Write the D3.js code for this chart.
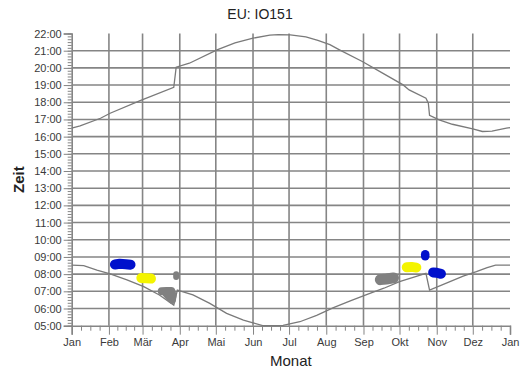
<!DOCTYPE html>
<html>
<head>
<meta charset="utf-8">
<script src="https://cdn.jsdelivr.net/npm/d3@7"></script>
<style>
  body { margin: 0; background: #fff; }
  svg { font-family: "Liberation Sans", Arial, sans-serif; }
</style>
</head>
<body>
<script>
// month labels and the day of year each month starts on
var months = ["Jan", "Feb", "Mär", "Apr", "Mai", "Jun", "Jul", "Aug", "Sep", "Okt", "Nov", "Dez", "Jan"];
var monthStart = [0, 31, 59, 90, 120, 151, 181, 212, 243, 273, 304, 334, 365];
var hourTicks = [5, 6, 7, 8, 9, 10, 11, 12, 13, 14, 15, 16, 17, 18, 19, 20, 21, 22];

// sunset line [day, hour]
var sunset = [
  [0, 16.49], [7, 16.62], [24, 17.07], [32, 17.36], [57, 18.10], [85, 18.87],
  [87, 20.04], [98, 20.27], [121, 21.05], [136, 21.45], [151, 21.73], [165, 21.9],
  [172, 21.93], [182, 21.92], [195, 21.8], [205, 21.6], [215, 21.35], [223, 21.05],
  [242, 20.37], [260, 19.65], [276, 19.01], [281, 18.72], [295, 18.24],
  [297, 17.95], [298, 17.24], [306, 16.97], [317, 16.72], [334, 16.45], [342, 16.30],
  [350, 16.32], [362, 16.49], [365, 16.52]
];

// sunrise line [day, hour]
var sunrise = [
  [0, 8.53], [10, 8.49], [21, 8.24], [32, 8.01], [46, 7.66], [60, 7.27], [73, 6.79],
  [85, 6.20], [88, 7.07], [101, 6.79], [115, 6.30], [129, 5.72], [143, 5.33],
  [151, 5.17], [159, 5.0], [176, 5.02], [190, 5.23], [204, 5.6], [218, 6.05],
  [232, 6.45], [245, 6.79], [260, 7.18], [273, 7.56], [285, 7.83], [295, 8.05],
  [298, 7.07], [315, 7.56], [326, 7.88], [337, 8.14], [346, 8.38], [353, 8.53], [365, 8.53]
];

// observation groups [day, hour]
var blueFeb = [[36, 8.56], [40, 8.6], [45, 8.58], [49, 8.55]];
var yellowMar = [[58, 7.78], [62, 7.76], [66, 7.74]];
var grayApr = [[87, 8.0], [87, 7.84]];
var grayMar = [[75, 7.0], [79, 7.02], [83, 7.02], [84, 6.75], [83.5, 6.5], [79, 6.85]];
var graySep = [[257, 7.68], [262, 7.72], [268, 7.78]];
var yellowOkt = [[279, 8.4], [283, 8.42], [287, 8.38]];
var blueOkt = [[294.4, 9.16], [294.4, 9.04]];
var blueNov = [[301, 8.1], [304, 8.08], [307.5, 8.02]];

var svgWidth = 520, svgHeight = 374;
var plotLeft = 71.7, plotRight = 510, plotTop = 33.5, plotBottom = 325.7;
var gridColor = "#858585";

var svg = d3.select("body").append("svg")
  .attr("width", svgWidth)
  .attr("height", svgHeight);

var x = d3.scaleLinear().domain([0, 365]).range([plotLeft, plotRight]);
var y = d3.scaleLinear().domain([5, 22]).range([plotBottom, plotTop]);

// grid
svg.append("g").selectAll("line")
  .data(hourTicks.filter(function (h) { return h > 5 && h < 22; }))
  .enter().append("line")
    .attr("x1", plotLeft).attr("x2", plotRight)
    .attr("y1", function (d) { return y(d); })
    .attr("y2", function (d) { return y(d); })
    .attr("stroke", gridColor).attr("stroke-width", 1.6);

svg.append("g").selectAll("line")
  .data(monthStart.slice(1, 12))
  .enter().append("line")
    .attr("x1", function (d) { return x(d); })
    .attr("x2", function (d) { return x(d); })
    .attr("y1", plotTop).attr("y2", plotBottom)
    .attr("stroke", gridColor).attr("stroke-width", 1.6);

// minor ticks
var minorY = d3.range(5, 22.0001, 1 / 6);
var minorX = [];
monthStart.slice(0, 12).forEach(function (m, i) {
  var len = monthStart[i + 1] - m;
  minorX.push(m + len / 4, m + len / 2, m + 3 * len / 4);
});

svg.append("g")
  .attr("transform", "translate(" + plotLeft + ",0)")
  .call(d3.axisLeft(y).tickValues(minorY).tickSize(4).tickFormat(""))
  .call(function (g) { g.select(".domain").remove(); })
  .selectAll("line").attr("stroke", gridColor);

svg.append("g")
  .attr("transform", "translate(0," + plotBottom + ")")
  .call(d3.axisBottom(x).tickValues(minorX).tickSize(5).tickFormat(""))
  .call(function (g) { g.select(".domain").remove(); })
  .selectAll("line").attr("stroke", gridColor);

// main axes
var yAxis = svg.append("g")
  .attr("transform", "translate(" + plotLeft + ",0)")
  .call(d3.axisLeft(y).tickValues(hourTicks).tickSize(8).tickPadding(2)
    .tickFormat(function (d) { return (d < 10 ? "0" : "") + d + ":00"; }));
yAxis.select(".domain").attr("stroke", gridColor).attr("stroke-width", 1.6);
yAxis.selectAll("line").attr("stroke", gridColor);
yAxis.selectAll("text").attr("fill", "#3a3a3a").style("font-size", "11px")
  .style("font-family", "Liberation Sans, Arial, sans-serif");

var xAxis = svg.append("g")
  .attr("transform", "translate(0," + plotBottom + ")")
  .call(d3.axisBottom(x).tickValues(monthStart).tickSize(9).tickPadding(4)
    .tickFormat(function (d, i) { return months[i]; }));
xAxis.select(".domain").attr("stroke", gridColor).attr("stroke-width", 1.6);
xAxis.selectAll("line").attr("stroke", gridColor);
xAxis.selectAll("text").attr("fill", "#3a3a3a").style("font-size", "11px")
  .style("font-family", "Liberation Sans, Arial, sans-serif");

// sun lines
var line = d3.line()
  .x(function (d) { return x(d[0]); })
  .y(function (d) { return y(d[1]); });

[sunset, sunrise].forEach(function (s) {
  svg.append("path")
    .datum(s)
    .attr("d", line)
    .attr("fill", "none")
    .attr("stroke", "#7a7a7a")
    .attr("stroke-width", 1.3);
});

// observations
var groups = [
  { pts: blueFeb, color: "#0010cc", w: 10 },
  { pts: yellowMar, color: "#f4f400", w: 10 },
  { pts: grayApr, color: "#808080", w: 6 },
  { pts: grayMar, color: "#808080", w: 8 },
  { pts: graySep, color: "#808080", w: 11 },
  { pts: yellowOkt, color: "#f4f400", w: 10 },
  { pts: blueOkt, color: "#0010cc", w: 8.5 },
  { pts: blueNov, color: "#0010cc", w: 10 }
];

groups.forEach(function (g) {
  svg.append("path")
    .datum(g.pts)
    .attr("d", line)
    .attr("fill", "none")
    .attr("stroke", g.color)
    .attr("stroke-width", g.w)
    .attr("stroke-linecap", "round")
    .attr("stroke-linejoin", "round");
});

// titles
svg.append("text")
  .attr("x", svgWidth / 2)
  .attr("y", 19)
  .attr("text-anchor", "middle")
  .style("font-size", "14px")
  .attr("fill", "#222")
  .text("EU: IO151");

svg.append("text")
  .attr("x", (plotLeft + plotRight) / 2)
  .attr("y", 366)
  .attr("text-anchor", "middle")
  .style("font-size", "15px")
  .attr("fill", "#222")
  .text("Monat");

svg.append("text")
  .attr("transform", "translate(24," + ((plotTop + plotBottom) / 2) + ") rotate(-90)")
  .attr("text-anchor", "middle")
  .style("font-size", "15px")
  .style("font-weight", "bold")
  .attr("fill", "#222")
  .text("Zeit");
</script>
</body>
</html>
